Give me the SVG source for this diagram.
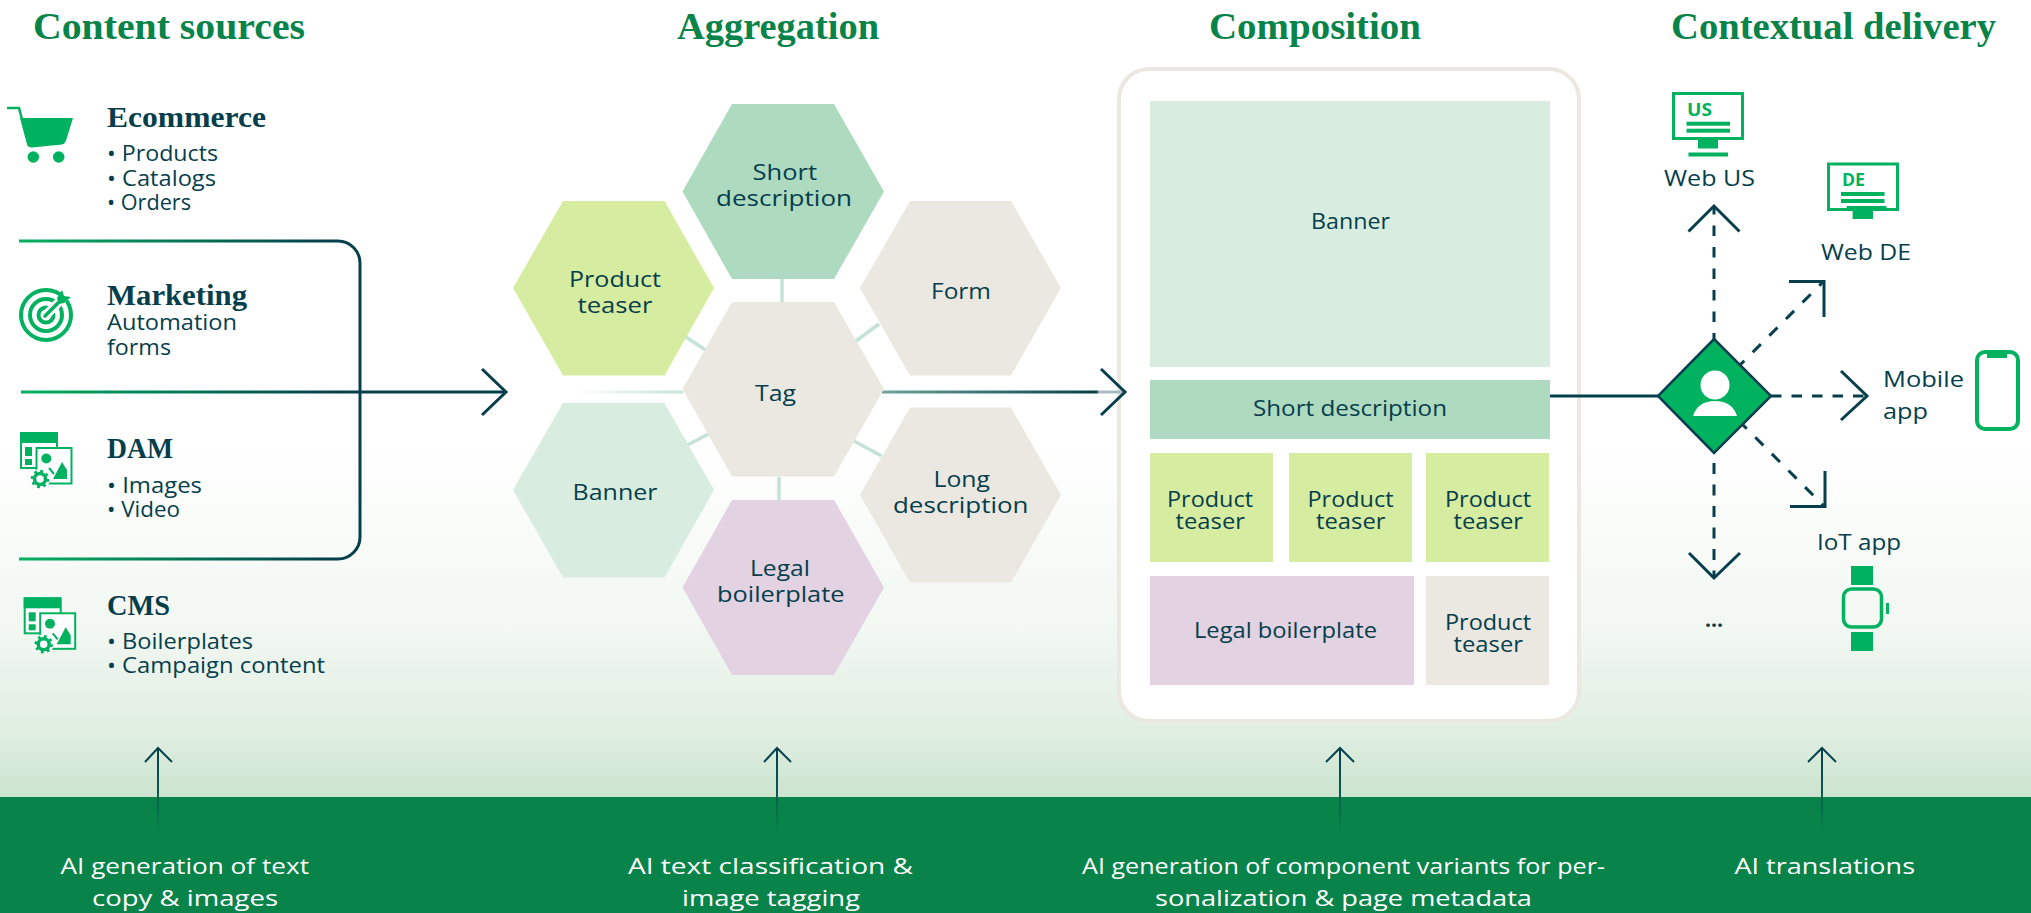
<svg xmlns="http://www.w3.org/2000/svg" xmlns:xlink="http://www.w3.org/1999/xlink" width="2031" height="913" viewBox="0 0 2031 913">
<style>
text{font-family:"Open Sans","Noto Sans",Arial,sans-serif;fill:#063e4c;font-size:22px}
.t{font-family:"Liberation Serif","Times New Roman",serif;font-weight:700;font-size:37px;fill:#08834a}
.h{font-family:"Liberation Serif","Times New Roman",serif;font-weight:700;font-size:30px}
.b{font-size:21px}
.w{fill:#fff;font-size:22px}
.ic{fill:#00b260}
.ol{fill:none;stroke:#00b260}
.c{fill:none;stroke:#063e4c;stroke-width:3}
.d{fill:none;stroke:#063e4c;stroke-width:3}
.s{fill:none;stroke:#c4e2d8;stroke-width:3.5}
.ln{fill:#ebe8e2}.gr{fill:#aedac0}.ly{fill:#d6eca0}.pb{fill:#d8eddf}.pu{fill:#e2d2e2}
</style>
<defs>
<linearGradient id="bg" gradientUnits="userSpaceOnUse" x1="0" y1="440" x2="0" y2="797">
<stop offset="0" stop-color="#fff"/><stop offset=".5" stop-color="#f3f8f3"/><stop offset=".81" stop-color="#e1efe3"/><stop offset="1" stop-color="#cbe4cf"/>
</linearGradient>
<linearGradient id="gl" gradientUnits="userSpaceOnUse" x1="19" y1="0" x2="330" y2="0">
<stop offset="0" stop-color="#00b260"/><stop offset="1" stop-color="#063e4c"/>
</linearGradient>
<linearGradient id="gm" gradientUnits="userSpaceOnUse" x1="21" y1="0" x2="480" y2="0">
<stop offset="0" stop-color="#00b260"/><stop offset=".7" stop-color="#063e4c"/>
</linearGradient>
<linearGradient id="gf" gradientUnits="userSpaceOnUse" x1="575" y1="0" x2="683" y2="0">
<stop offset="0" stop-color="#c4e2d8" stop-opacity="0"/><stop offset="1" stop-color="#c4e2d8"/>
</linearGradient>
<linearGradient id="gr" gradientUnits="userSpaceOnUse" x1="882" y1="0" x2="1126" y2="0">
<stop offset="0" stop-color="#6fa59a"/><stop offset=".88" stop-color="#063e4c"/><stop offset=".89" stop-color="#a9bcc0"/><stop offset="1" stop-color="#a9bcc0"/>
</linearGradient>
<linearGradient id="gu" gradientUnits="userSpaceOnUse" x1="0" y1="747" x2="0" y2="832">
<stop offset="0" stop-color="#063e4c"/><stop offset=".55" stop-color="#0a5a50"/><stop offset="1" stop-color="#08834a"/>
</linearGradient>
<g id="media">
<rect x="21" y="433" width="36" height="35" fill="#fff" stroke="#00b260" stroke-width="2"/>
<rect class="ic" x="20" y="432" width="37.500" height="11"/>
<rect class="ic" x="25" y="447" width="7" height="9"/>
<rect class="ic" x="25" y="459" width="7" height="6"/>
<rect x="36.500" y="448" width="35" height="35.500" fill="#fff" stroke="#00b260" stroke-width="2"/>
<circle class="ic" cx="46.300" cy="458.500" r="5"/>
<polygon class="ic" points="53,479 62,462 67,470 67,479"/>
<path d="M49 468l5 6" fill="none" stroke="#00b260" stroke-width="2"/>
<circle cx="40" cy="479" r="10" fill="#fff"/>
<circle class="ol" cx="40" cy="479" r="5.500" stroke-width="3.500"/>
<circle class="ol" cx="40" cy="479" r="8" stroke-width="2.500" stroke-dasharray="2.800 3.480"/>
</g>
</defs>
<rect id="background" width="2031" height="913" fill="url(#bg)"/>
<rect id="ai-band" y="797" width="2031" height="116" fill="#08834a"/>

<g id="titles">
<text class="t" x="33" y="39" textLength="272" lengthAdjust="spacingAndGlyphs">Content sources</text>
<text class="t" x="677" y="39" textLength="202" lengthAdjust="spacingAndGlyphs">Aggregation</text>
<text class="t" x="1209" y="39" textLength="212" lengthAdjust="spacingAndGlyphs">Composition</text>
<text class="t" x="1671" y="39" textLength="325" lengthAdjust="spacingAndGlyphs">Contextual delivery</text>
</g>

<g id="page-frame">
<rect x="1119" y="69" width="460" height="652" rx="30" fill="#fff" stroke="#ebe8e2" stroke-width="4"/>
</g>

<g id="connectors">
<path class="c" style="stroke:url(#gl)" d="M19 241H338a22 22 0 0 1 22 22V537a22 22 0 0 1-22 22H19"/>
<path class="c" style="stroke:url(#gm)" d="M21 392H505"/>
<path class="c" d="M482 369l24 23l-24 23"/>
<path class="s" style="stroke:url(#gf);stroke-width:3" d="M575 392H683"/>
<path class="s" d="M782 279V302"/>
<path class="s" d="M686 337L705.500 350"/>
<path class="s" d="M879 324L856 341"/>
<path class="s" d="M687.500 445L708.500 434"/>
<path class="s" d="M854 441L881.500 456"/>
<path class="s" d="M779 476.500V500"/>
<path class="c" style="stroke:url(#gr)" d="M882 392H1126"/>
<path class="c" d="M1101 369l24 23l-24 23"/>
<path class="c" d="M1550 396H1658"/>
<path class="d" stroke-dasharray="10.500 11" stroke-dashoffset="4.500" d="M1714 339V206"/>
<path class="c" d="M1688.500 231.500L1714 206L1739.500 231.500"/>
<path class="d" stroke-dasharray="11.500 12" stroke-dashoffset="5.500" d="M1740 365L1824 281"/>
<path class="c" d="M1789 281.500H1824V317"/>
<path class="d" stroke-dasharray="10.500 10" d="M1771 396H1867"/>
<path class="c" d="M1841 371L1867 396L1841 420"/>
<path class="d" stroke-dasharray="11.500 12" stroke-dashoffset="5.500" d="M1742.500 424.500L1825 507"/>
<path class="c" d="M1790 506.500H1825V471"/>
<path class="d" stroke-dasharray="11 10.500" d="M1714 463V578"/>
<path class="c" d="M1689 553L1714 578L1740 553"/>
<g style="stroke:url(#gu);stroke-width:2;fill:none">
<path d="M158 748V832"/><path d="M145 762L158 748L172 762"/>
<path d="M777 748V832"/><path d="M764 762L777 748L791 762"/>
<path d="M1340 748V832"/><path d="M1326 762L1340 748L1354 762"/>
<path d="M1822 748V832"/><path d="M1808 762L1822 748L1836 762"/>
</g>
</g>

<g id="ecommerce">
<path d="M7 108H19L29 146" fill="none" stroke="#00b260" stroke-width="2.500"/>
<path class="ic" d="M20 118H73L66.500 139Q65 144 62 144.500L32 147.500Q28 147.500 27 144Z"/>
<circle class="ic" cx="33.300" cy="157" r="5.800"/><circle class="ic" cx="58.700" cy="157" r="5.800"/>
<text class="h" x="107" y="127" textLength="159" lengthAdjust="spacingAndGlyphs">Ecommerce</text>
<text class="b" x="107" y="161" textLength="111" lengthAdjust="spacingAndGlyphs">• Products</text>
<text class="b" x="107" y="186" textLength="109" lengthAdjust="spacingAndGlyphs">• Catalogs</text>
<text class="b" x="107" y="210" textLength="84" lengthAdjust="spacingAndGlyphs">• Orders</text>
</g>
<g id="marketing">
<circle class="ol" cx="46" cy="315" r="25" stroke-width="4"/>
<circle class="ol" cx="46" cy="315" r="16" stroke-width="4"/>
<circle class="ol" cx="46" cy="315" r="7.500" stroke-width="4"/>
<path d="M46 315L72 289" stroke="#fff" stroke-width="9" fill="none"/>
<path d="M45 316L60 301" stroke="#00b260" stroke-width="3.500" fill="none" stroke-linecap="round"/>
<polygon class="ic" points="57,298 62,290 64,296 71,297 64,303 59,304"/>
<text class="h" x="107" y="305" textLength="140" lengthAdjust="spacingAndGlyphs">Marketing</text>
<text class="b" x="107" y="330" textLength="130" lengthAdjust="spacingAndGlyphs">Automation</text>
<text class="b" x="107" y="355" textLength="64" lengthAdjust="spacingAndGlyphs">forms</text>
</g>
<g id="dam">
<use xlink:href="#media" href="#media"/>
<text class="h" x="107" y="458" textLength="66" lengthAdjust="spacingAndGlyphs">DAM</text>
<text class="b" x="107" y="493" textLength="95" lengthAdjust="spacingAndGlyphs">• Images</text>
<text class="b" x="107" y="517" textLength="73" lengthAdjust="spacingAndGlyphs">• Video</text>
</g>
<g id="cms">
<use xlink:href="#media" href="#media" x="3.700" y="165.300"/>
<text class="h" x="107" y="615" textLength="63" lengthAdjust="spacingAndGlyphs">CMS</text>
<text class="b" x="107" y="649" textLength="146" lengthAdjust="spacingAndGlyphs">• Boilerplates</text>
<text class="b" x="107" y="673" textLength="218" lengthAdjust="spacingAndGlyphs">• Campaign content</text>
</g>

<g id="hex-short-description">
<polygon class="gr" points="732,104 834,104 884,191.500 834,279 732,279 682.500,191.500"/>
<text x="752.500" y="180" textLength="64.500" lengthAdjust="spacingAndGlyphs">Short</text>
<text x="716" y="206" textLength="136" lengthAdjust="spacingAndGlyphs">description</text>
</g>
<g id="hex-product-teaser">
<polygon class="ly" points="563,201 664.500,201 714,288 664.500,375.500 563,375.500 513,288"/>
<text x="569" y="287" textLength="92" lengthAdjust="spacingAndGlyphs">Product</text>
<text x="577.500" y="313" textLength="75" lengthAdjust="spacingAndGlyphs">teaser</text>
</g>
<g id="hex-form">
<polygon class="ln" points="910,201 1011,201 1061,288 1011,375.500 910,375.500 860,288"/>
<text x="931" y="299" textLength="60" lengthAdjust="spacingAndGlyphs">Form</text>
</g>
<g id="hex-tag">
<polygon class="ln" points="732,302 834,302 884,389 834,476.500 732,476.500 682.500,389"/>
<text x="755" y="401" textLength="41" lengthAdjust="spacingAndGlyphs">Tag</text>
</g>
<g id="hex-banner">
<polygon class="pb" points="563,403 664.500,403 714,490 664.500,577.500 563,577.500 513,490"/>
<text x="572.500" y="499.500" textLength="85" lengthAdjust="spacingAndGlyphs">Banner</text>
</g>
<g id="hex-long-description">
<polygon class="ln" points="910,407.500 1011,407.500 1061,495 1011,582.500 910,582.500 860,495"/>
<text x="933.500" y="487" textLength="56.500" lengthAdjust="spacingAndGlyphs">Long</text>
<text x="893" y="513" textLength="135.500" lengthAdjust="spacingAndGlyphs">description</text>
</g>
<g id="hex-legal-boilerplate">
<polygon class="pu" points="732,500 834,500 884,587.500 834,675 732,675 682.500,587.500"/>
<text x="750" y="576" textLength="60" lengthAdjust="spacingAndGlyphs">Legal</text>
<text x="717" y="602" textLength="127.500" lengthAdjust="spacingAndGlyphs">boilerplate</text>
</g>

<g id="page-banner">
<rect class="pb" x="1150" y="101" width="400" height="266"/>
<text class="b" x="1311" y="229" textLength="79" lengthAdjust="spacingAndGlyphs">Banner</text>
</g>
<g id="page-short-description">
<rect class="gr" x="1150" y="380" width="400" height="59"/>
<text class="b" x="1253" y="416" textLength="194" lengthAdjust="spacingAndGlyphs">Short description</text>
</g>
<g id="page-teaser-1">
<rect class="ly" x="1150" y="453" width="123" height="109"/>
<text class="b" x="1167" y="507" textLength="86" lengthAdjust="spacingAndGlyphs">Product</text>
<text class="b" x="1175.500" y="529" textLength="69.500" lengthAdjust="spacingAndGlyphs">teaser</text>
</g>
<g id="page-teaser-2">
<rect class="ly" x="1289" y="453" width="123" height="109"/>
<text class="b" x="1307.500" y="507" textLength="86" lengthAdjust="spacingAndGlyphs">Product</text>
<text class="b" x="1316" y="529" textLength="69.500" lengthAdjust="spacingAndGlyphs">teaser</text>
</g>
<g id="page-teaser-3">
<rect class="ly" x="1426" y="453" width="123" height="109"/>
<text class="b" x="1445" y="507" textLength="86" lengthAdjust="spacingAndGlyphs">Product</text>
<text class="b" x="1453.500" y="529" textLength="69.500" lengthAdjust="spacingAndGlyphs">teaser</text>
</g>
<g id="page-legal">
<rect class="pu" x="1150" y="576" width="264" height="109"/>
<text class="b" x="1194" y="638" textLength="183" lengthAdjust="spacingAndGlyphs">Legal boilerplate</text>
</g>
<g id="page-teaser-4">
<rect class="ln" x="1426" y="576" width="123" height="109"/>
<text class="b" x="1445" y="630" textLength="86" lengthAdjust="spacingAndGlyphs">Product</text>
<text class="b" x="1453.500" y="652" textLength="69.500" lengthAdjust="spacingAndGlyphs">teaser</text>
</g>

<g id="user-diamond">
<polygon points="1714,339 1771,396 1714,453 1658,396" fill="#00b260" stroke="#063e4c" stroke-width="2.500"/>
<circle cx="1715" cy="385" r="14.500" fill="#fff"/>
<path d="M1693 416C1696 406 1704 401 1715 401C1726 401 1734 406 1737 416Z" fill="#fff"/>
</g>
<g id="web-us">
<rect class="ol" x="1673.500" y="93.500" width="69" height="45" stroke-width="3"/>
<text x="1687" y="115.500" textLength="25" lengthAdjust="spacingAndGlyphs" style="fill:#00b260;font-weight:700;font-size:17px">US</text>
<rect class="ic" x="1686.500" y="121.700" width="43.500" height="4"/>
<rect class="ic" x="1686.500" y="128.700" width="43.500" height="4"/>
<rect class="ic" x="1698" y="140" width="20" height="8.500"/>
<rect class="ic" x="1688.500" y="152.500" width="39.500" height="4"/>
<text x="1664" y="186" textLength="91" lengthAdjust="spacingAndGlyphs">Web US</text>
</g>
<g id="web-de">
<rect class="ol" x="1828.500" y="164" width="69" height="45.500" stroke-width="3"/>
<text x="1842" y="186" textLength="23" lengthAdjust="spacingAndGlyphs" style="fill:#00b260;font-weight:700;font-size:17px">DE</text>
<rect class="ic" x="1841" y="192" width="43.500" height="4"/>
<rect class="ic" x="1841" y="199" width="43.500" height="4"/>
<rect class="ic" x="1846.700" y="206" width="39.800" height="2"/>
<rect class="ic" x="1852.600" y="211" width="20.400" height="8"/>
<text x="1821" y="260" textLength="90" lengthAdjust="spacingAndGlyphs">Web DE</text>
</g>
<g id="mobile-app">
<rect class="ol" x="1977" y="352" width="41" height="77" rx="8" stroke-width="4"/>
<rect class="ic" x="1987" y="351" width="20" height="7"/>
<text x="1883" y="387" textLength="81" lengthAdjust="spacingAndGlyphs">Mobile</text>
<text x="1883" y="419" textLength="45" lengthAdjust="spacingAndGlyphs">app</text>
</g>
<g id="iot-app">
<rect class="ic" x="1851" y="566" width="22" height="19"/>
<rect class="ol" x="1843.500" y="589" width="38" height="38" rx="8" stroke-width="3.500"/>
<rect class="ic" x="1886" y="603" width="3" height="11"/>
<rect class="ic" x="1851" y="632" width="22" height="19"/>
<text x="1817" y="550" textLength="84" lengthAdjust="spacingAndGlyphs">IoT app</text>
</g>
<g id="more">
<text x="1705" y="627" textLength="18" lengthAdjust="spacingAndGlyphs" style="font-weight:700">...</text>
</g>

<g id="ai-labels">
<text class="w" x="60.500" y="874" textLength="248.500" lengthAdjust="spacingAndGlyphs">AI generation of text</text>
<text class="w" x="92" y="906" textLength="186" lengthAdjust="spacingAndGlyphs">copy &amp; images</text>
<text class="w" x="628" y="874" textLength="285" lengthAdjust="spacingAndGlyphs">AI text classification &amp;</text>
<text class="w" x="682" y="906" textLength="178" lengthAdjust="spacingAndGlyphs">image tagging</text>
<text class="w" x="1082" y="874" textLength="523" lengthAdjust="spacingAndGlyphs">AI generation of component variants for per-</text>
<text class="w" x="1155" y="906" textLength="377" lengthAdjust="spacingAndGlyphs">sonalization &amp; page metadata</text>
<text class="w" x="1734.500" y="874" textLength="180.500" lengthAdjust="spacingAndGlyphs">AI translations</text>
</g>
</svg>
